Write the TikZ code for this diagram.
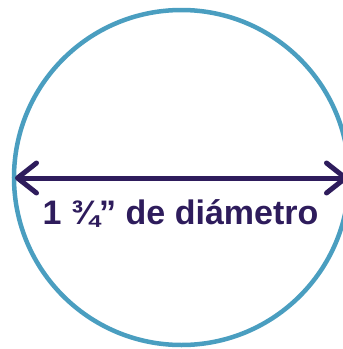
\documentclass[tikz,border=0pt]{standalone}
\usepackage{fontspec}
\setmainfont{Liberation Sans}
\usetikzlibrary{arrows.meta}
\definecolor{rimblue}{HTML}{4A9EC0}
\definecolor{inkpurple}{HTML}{2E1C5C}
\begin{document}
\begin{tikzpicture}[x=1pt, y=-1pt, every node/.style={font=\fontsize{34}{40}\selectfont\bfseries}, >={Straight Barb[length=19pt, width=30pt, round]}]
	\useasboundingbox (0,0) rectangle (343,349);
	\clip (0,0) rectangle (343,349);
	\draw[rimblue, line width=4.5pt] (181.5,177.5) circle (167.5);
	\coordinate (leftend) at (15,178);
	\coordinate (rightend) at (348,178);
	\draw[<->, inkpurple, line width=5pt, line cap=round] (leftend) -- (rightend);
	\node[inkpurple, anchor=base, inner sep=0pt] (diam) at (180.5,224) {1 ¾” de diámetro};
\end{tikzpicture}
\end{document}
